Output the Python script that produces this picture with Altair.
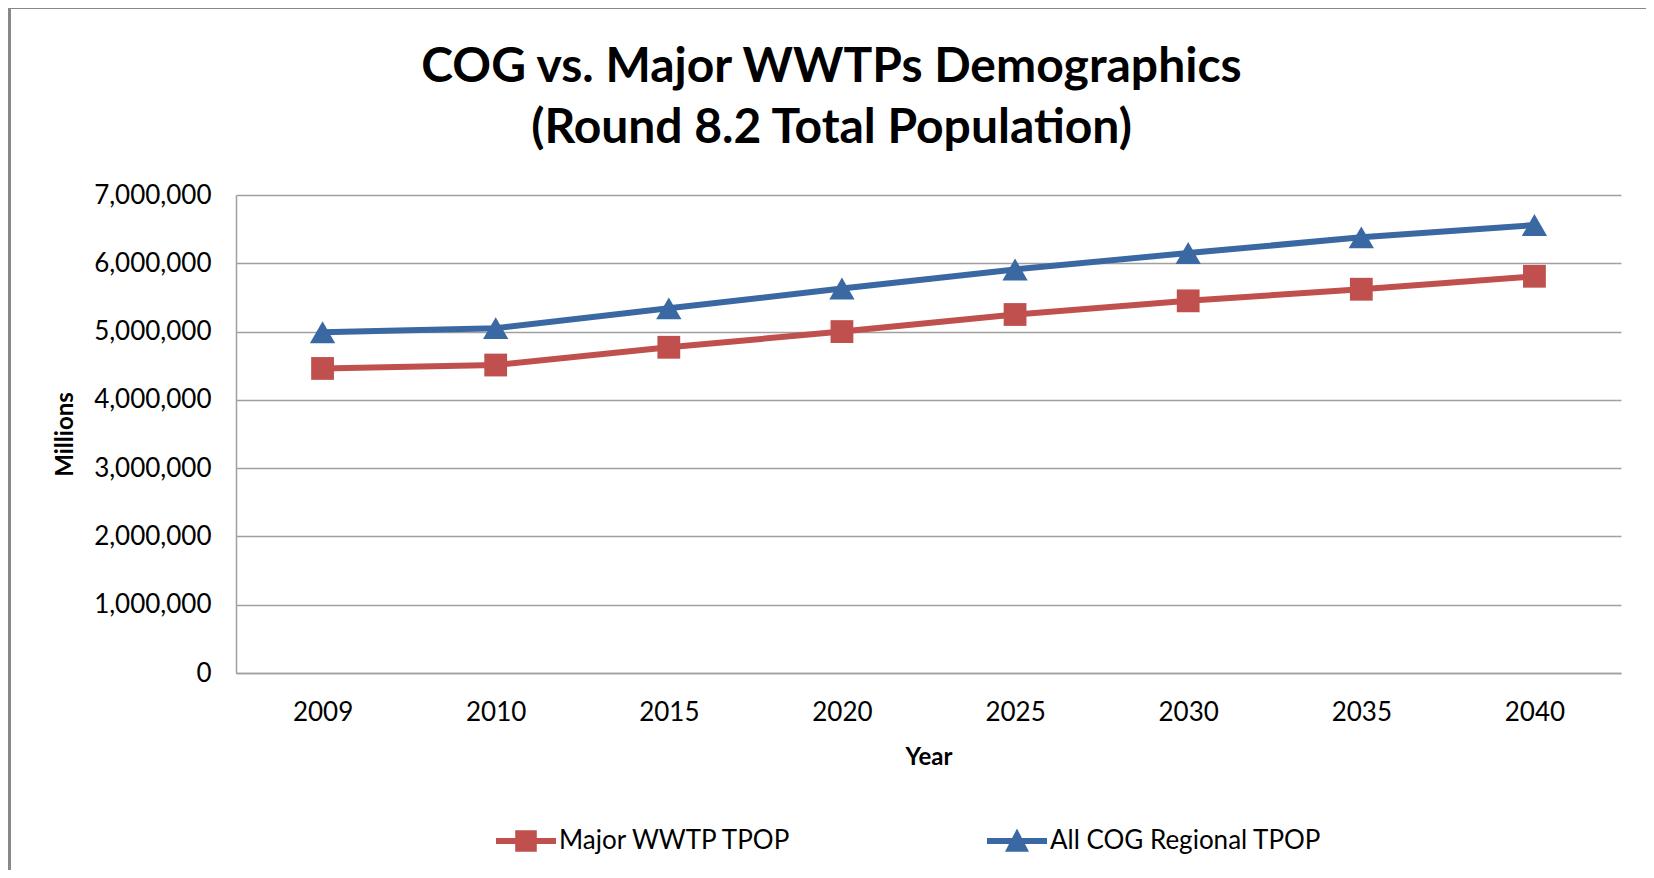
import altair as alt
import pandas as pd

# ---- data ----
years = ["2009", "2010", "2015", "2020", "2025", "2030", "2035", "2040"]
major_wwtp_tpop = [4460000, 4510000, 4770000, 5000000, 5250000, 5450000, 5620000, 5810000]
all_cog_tpop = [4990000, 5050000, 5340000, 5630000, 5910000, 6150000, 6380000, 6560000]
series_names = ["Major WWTP TPOP", "All COG Regional TPOP"]

colors = ["#C0504D", "#3A68A2"]
marker_shapes = ["square", "triangle-up"]
legend_paths = [
    "M-1,-0.1H1V0.1H-1Z M-0.36,-0.36H0.36V0.36H-0.36Z",
    "M-1,-0.1H1V0.1H-1Z M0,-0.42L0.4,0.36H-0.4Z",
]

rows = []
for yr, m, c in zip(years, major_wwtp_tpop, all_cog_tpop):
    rows.append({"Year": yr, "series": series_names[0], "value": m})
    rows.append({"Year": yr, "series": series_names[1], "value": c})
df = pd.DataFrame(rows)

W, H = 1385, 478
FONT = "Lato"
GRID = "#A0A0A0"

x_enc = alt.X(
    "Year:O",
    sort=years,
    scale=alt.Scale(type="point", padding=0.5),
    axis=alt.Axis(
        title="Year", labelAngle=0, ticks=False, grid=False,
        domainColor=GRID, domainWidth=1.5,
        labelFont=FONT, labelFontSize=26, labelColor="#000", labelPadding=26,
        titleFont=FONT, titleFontSize=24, titleFontWeight="bold", titleColor="#000",
        titleX=W / 2, titleY=84, titleBaseline="middle",
    ),
)
y_enc = alt.Y(
    "value:Q",
    scale=alt.Scale(domain=[0, 7000000], nice=False),
    axis=alt.Axis(
        tickCount=7, labelExpr="format(datum.value, ',')", ticks=False,
        gridColor=GRID, gridWidth=1.5, domainColor=GRID, domainWidth=1.5,
        labelFont=FONT, labelFontSize=26, labelColor="#000", labelPadding=25,
        title="Millions", titleFont=FONT, titleFontSize=24, titleFontWeight="bold",
        titleColor="#000", titleX=-171, titleY=H / 2, titleAngle=270,
        titleAlign="center", titleBaseline="middle",
    ),
)
color_scale = alt.Scale(domain=series_names, range=colors)

lines = alt.Chart(df).mark_line(strokeWidth=6).encode(
    x=x_enc, y=y_enc,
    color=alt.Color("series:N", scale=color_scale, legend=None),
)

pts_sq = alt.Chart(df).transform_filter(
    alt.datum.series == series_names[0]
).mark_point(filled=True, opacity=1, shape=marker_shapes[0], size=520).encode(
    x=x_enc, y=y_enc,
    color=alt.Color("series:N", scale=color_scale, legend=None),
)
pts_tri = alt.Chart(df).transform_filter(
    alt.datum.series == series_names[1]
).mark_point(filled=True, opacity=1, shape=marker_shapes[1], size=640).encode(
    x=x_enc, y=y_enc,
    color=alt.Color("series:N", scale=color_scale, legend=None),
)

leg = alt.Legend(
    orient="none", legendX=260, legendY=616, direction="horizontal", title=None,
    symbolSize=3600, symbolOpacity=1, symbolStrokeWidth=0,
    labelFont=FONT, labelFontSize=26, labelColor="#000", labelOffset=3,
    labelLimit=500, columnPadding=195,
)
legend_layer = alt.Chart(df).mark_point(filled=True, opacity=0).encode(
    x=x_enc, y=y_enc,
    color=alt.Color("series:N", scale=color_scale, legend=leg),
    shape=alt.Shape("series:N", scale=alt.Scale(domain=series_names, range=legend_paths), legend=leg),
)

frame = alt.Chart(alt.Data(values=[{"a": 1}])).mark_rect(
    fillOpacity=0, stroke="#888888", strokeWidth=3
).encode(
    x=alt.value(-226.5), x2=alt.value(1500), y=alt.value(-187.5), y2=alt.value(800)
)

chart = alt.layer(frame, lines, pts_sq, pts_tri, legend_layer).resolve_scale(
    color="independent", shape="independent"
).properties(
    width=W, height=H,
    padding={"left": 228, "top": 187, "right": 25, "bottom": 197},
    autosize=alt.AutoSizeParams(type="none"),
    title=alt.Title(
        text=["COG vs. Major WWTPs Demographics", "(Round 8.2 Total Population)"],
        font=FONT, fontSize=48, fontWeight="bold", color="#000",
        anchor="middle", frame="group", dx=-97, dy=147, offset=0, lineHeight=61,
    ),
).configure_view(stroke=None)

chart.save("out.html", embed_options={"renderer": "svg", "actions": False})
